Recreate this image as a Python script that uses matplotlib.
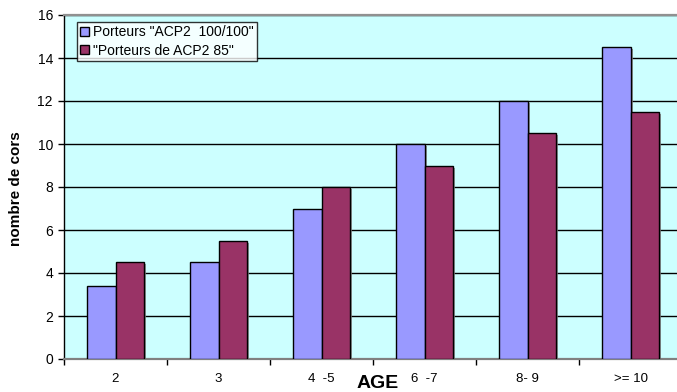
import matplotlib
matplotlib.use("Agg")
import matplotlib.pyplot as plt
import matplotlib.patheffects as pe
import numpy as np

plt.rcParams['font.family'] = ['Liberation Sans', 'DejaVu Sans']

categories = ["2", "3", "4  -5", "6  -7", "8- 9", ">= 10"]
series_a = [3.4, 4.5, 7.0, 10.0, 12.0, 14.5]
series_b = [4.5, 5.5, 8.0, 9.0, 10.5, 11.5]
label_a = 'Porteurs "ACP2  100/100"'
label_b = '"Porteurs de ACP2 85"'
y_ticks = [0, 2, 4, 6, 8, 10, 12, 14, 16]

W, H = 677, 392
fig = plt.figure(figsize=(W / 100, H / 100), dpi=100)
# plot area in pixels: left 64, top 15, bottom 359, right just past the figure edge
left, top, bottom, right = 64, 15, 359, 682
ax = fig.add_axes([left / W, 1 - bottom / H, (right - left) / W, (bottom - top) / H])
ax.set_facecolor("#CCFFFF")

x = np.arange(len(categories))
bw = 0.28
shadow = [pe.SimplePatchShadow(offset=(1.5, -1.5), shadow_rgbFace="#808080", alpha=0.8), pe.Normal()]
ba = ax.bar(x - bw / 2, series_a, bw, color="#9999FF", edgecolor="black", linewidth=1.0,
            label=label_a, zorder=3)
bb = ax.bar(x + bw / 2, series_b, bw, color="#993366", edgecolor="black", linewidth=1.0,
            label=label_b, zorder=3)
for p in list(ba) + list(bb):
    p.set_path_effects(shadow)

ax.set_xlim(-0.5, len(categories) - 0.5)
ax.set_ylim(0, 16)
ax.set_yticks(y_ticks)
ax.set_yticklabels([str(v) for v in y_ticks], fontsize=10)
ax.yaxis.grid(True, color="black", linewidth=1.0, zorder=1)
ax.set_axisbelow(True)

ax.set_xticks(x)
ax.set_xticklabels(categories, fontsize=9.5)
ax.tick_params(axis="x", length=0, pad=10)
ax.set_xticks(np.arange(len(categories) + 1) - 0.5, minor=True)
ax.tick_params(axis="x", which="minor", length=4, width=1, color="black", direction="out")
ax.tick_params(axis="y", length=4, width=1, color="black", direction="out", pad=4)

ax.spines["left"].set_color("black")
ax.spines["left"].set_linewidth(1.0)
ax.spines["bottom"].set_color("#808080")
ax.spines["bottom"].set_linewidth(1.6)
ax.spines["top"].set_color("#909090")
ax.spines["top"].set_linewidth(1.6)
ax.spines["right"].set_visible(False)

ax.set_ylabel("nombre de cors", fontsize=11, fontweight="bold")
ax.yaxis.set_label_coords((23 - left) / (right - left), (bottom - 189) / (bottom - top))
fig.text(378 / W, 1 - 388 / H, "AGE", fontsize=14, fontweight="bold",
         ha="center", va="baseline")

leg = ax.legend(loc="upper left", bbox_to_anchor=((77 - left) / (right - left), (bottom - 22) / (bottom - top)),
                fontsize=10, frameon=True, fancybox=False, edgecolor="black",
                borderpad=0.25, handlelength=0.6, handleheight=0.6, handletextpad=0.3,
                labelspacing=0.3, borderaxespad=0)
leg.get_frame().set_linewidth(1.0)
leg.get_frame().set_facecolor("white")
for h in leg.legend_handles:
    h.set_path_effects([])
    h.set_linewidth(1.0)

fig.savefig("out.png", dpi=100, facecolor="white")
